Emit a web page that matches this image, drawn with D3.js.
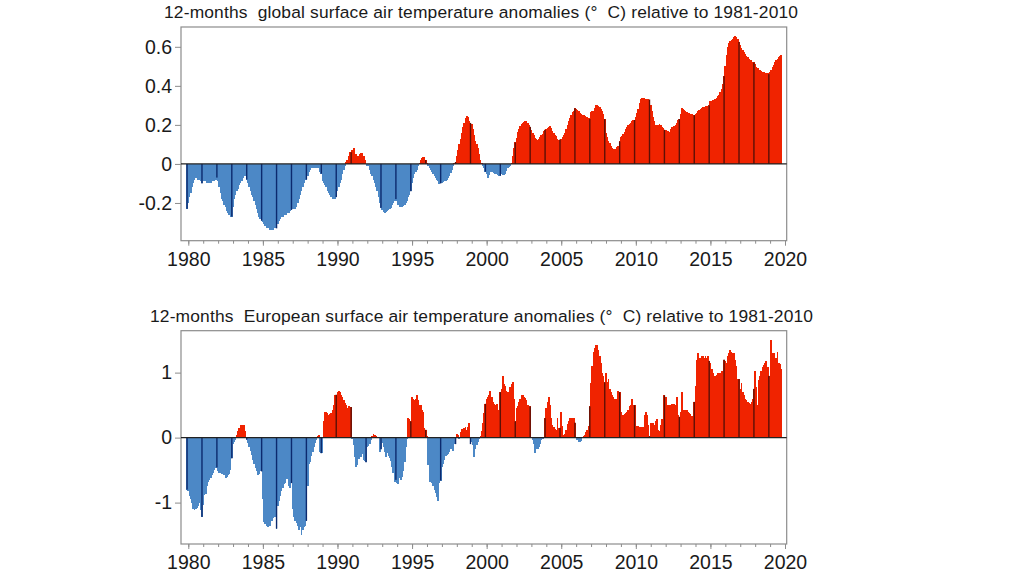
<!DOCTYPE html>
<html><head><meta charset="utf-8">
<script src="https://cdn.jsdelivr.net/npm/d3@7"></script>
<style>
html,body{margin:0;padding:0;background:#fff;overflow:hidden}
svg{display:block}
text{font-family:"Liberation Sans",Arial,sans-serif;fill:#1a1a1a;white-space:pre}
</style></head><body>
<svg id="c" width="1024" height="576"></svg>
<script>
const globalTitle = "12-months  global surface air temperature anomalies (°  C) relative to 1981-2010";
const europeTitle = "12-months  European surface air temperature anomalies (°  C) relative to 1981-2010";
const majorYears = [1980,1985,1990,1995,2000,2005,2010,2015,2020];
const globalTicks = [-0.2,0,0.2,0.4,0.6];
const globalTickLabels = ["-0.2","0","0.2","0.4","0.6"];
const europeTicks = [-1,0,1];
const europeTickLabels = ["-1","0","1"];

// one row per year, twelve running 12-month values; the first of each row is the dark bar
const globalValues = [
-0.23,-0.20,-0.17,-0.15,-0.12,-0.10,-0.08,-0.07,-0.07,-0.08,-0.08,-0.09,
-0.10,-0.09,-0.09,-0.09,-0.10,-0.10,-0.10,-0.10,-0.09,-0.09,-0.09,-0.08,
-0.07,-0.09,-0.12,-0.15,-0.18,-0.19,-0.21,-0.22,-0.24,-0.25,-0.26,-0.27,
-0.27,-0.22,-0.18,-0.16,-0.14,-0.13,-0.11,-0.10,-0.09,-0.07,-0.06,-0.06,
-0.08,-0.10,-0.12,-0.14,-0.16,-0.17,-0.19,-0.21,-0.23,-0.25,-0.27,-0.28,
-0.29,-0.30,-0.31,-0.32,-0.33,-0.33,-0.33,-0.34,-0.34,-0.34,-0.33,-0.33,
-0.33,-0.31,-0.29,-0.28,-0.27,-0.27,-0.26,-0.26,-0.26,-0.25,-0.25,-0.24,
-0.235,-0.23,-0.23,-0.23,-0.22,-0.20,-0.18,-0.16,-0.14,-0.12,-0.10,-0.08,
-0.08,-0.06,-0.04,-0.03,-0.02,-0.02,-0.02,-0.02,-0.02,-0.02,-0.02,-0.04,
-0.05,-0.09,-0.10,-0.11,-0.12,-0.14,-0.15,-0.16,-0.17,-0.18,-0.18,-0.18,
-0.17,-0.14,-0.12,-0.10,-0.08,-0.05,-0.03,-0.01,0.01,0.02,0.04,0.06,
0.06,0.07,0.08,0.05,0.05,0.04,0.04,0.05,0.055,0.055,0.04,0.02,
0.00,-0.01,-0.01,-0.03,-0.05,-0.06,-0.08,-0.10,-0.12,-0.14,-0.17,-0.20,
-0.225,-0.235,-0.245,-0.25,-0.245,-0.24,-0.235,-0.23,-0.225,-0.21,-0.20,-0.19,
-0.18,-0.19,-0.21,-0.22,-0.22,-0.22,-0.215,-0.21,-0.20,-0.19,-0.17,-0.16,
-0.14,-0.10,-0.07,-0.05,-0.04,-0.03,-0.01,0.005,0.02,0.03,0.035,0.035,
0.02,0.005,-0.01,-0.02,-0.03,-0.04,-0.05,-0.06,-0.07,-0.08,-0.09,-0.105,
-0.10,-0.10,-0.095,-0.09,-0.085,-0.08,-0.07,-0.06,-0.045,-0.03,-0.01,0.005,
0.01,0.04,0.07,0.10,0.13,0.16,0.19,0.21,0.235,0.245,0.24,0.22,
0.21,0.205,0.18,0.15,0.12,0.10,0.08,0.05,0.02,0.005,-0.01,-0.02,
-0.04,-0.05,-0.07,-0.055,-0.04,-0.04,-0.04,-0.045,-0.05,-0.05,-0.055,-0.06,
-0.06,-0.05,-0.055,-0.055,-0.05,-0.035,-0.02,-0.015,-0.01,0.005,0.04,0.08,
0.11,0.135,0.165,0.18,0.195,0.205,0.21,0.215,0.22,0.22,0.21,0.20,
0.19,0.175,0.16,0.15,0.135,0.13,0.125,0.13,0.14,0.15,0.155,0.17,
0.175,0.18,0.185,0.19,0.195,0.185,0.17,0.16,0.15,0.145,0.13,0.125,
0.125,0.13,0.14,0.15,0.16,0.18,0.20,0.22,0.235,0.25,0.265,0.27,
0.285,0.28,0.275,0.27,0.26,0.255,0.25,0.25,0.245,0.24,0.24,0.235,
0.23,0.265,0.27,0.27,0.285,0.30,0.30,0.295,0.29,0.28,0.27,0.255,
0.23,0.16,0.14,0.12,0.105,0.09,0.08,0.075,0.075,0.075,0.085,0.09,
0.115,0.14,0.145,0.155,0.165,0.18,0.19,0.20,0.205,0.21,0.22,0.225,
0.225,0.24,0.26,0.28,0.31,0.335,0.34,0.34,0.34,0.335,0.335,0.335,
0.33,0.30,0.27,0.24,0.22,0.20,0.195,0.20,0.205,0.20,0.19,0.185,
0.175,0.175,0.17,0.17,0.165,0.18,0.19,0.19,0.195,0.20,0.21,0.225,
0.23,0.255,0.285,0.28,0.275,0.27,0.265,0.26,0.26,0.255,0.255,0.25,
0.25,0.255,0.26,0.27,0.275,0.28,0.285,0.29,0.29,0.295,0.295,0.295,
0.30,0.32,0.32,0.325,0.33,0.335,0.34,0.35,0.355,0.37,0.385,0.41,
0.45,0.50,0.56,0.60,0.62,0.63,0.635,0.64,0.65,0.655,0.65,0.64,
0.625,0.61,0.595,0.585,0.575,0.565,0.555,0.55,0.54,0.535,0.53,0.52,
0.52,0.51,0.495,0.49,0.48,0.48,0.475,0.47,0.47,0.465,0.465,0.465,
0.46,0.47,0.48,0.495,0.505,0.52,0.53,0.54,0.55,0.555,0.56];

const europeValues = [
-0.80,-0.82,-0.90,-0.95,-1.00,-1.10,-1.12,-1.10,-1.08,-1.05,-1.00,-1.12,
-1.22,-1.04,-0.88,-0.87,-0.75,-0.68,-0.65,-0.62,-0.58,-0.55,-0.50,-0.47,
-0.46,-0.52,-0.55,-0.54,-0.56,-0.55,-0.58,-0.62,-0.60,-0.57,-0.56,-0.50,
-0.32,-0.10,-0.07,-0.03,0.04,0.10,0.15,0.19,0.20,0.18,0.19,0.10,
-0.03,-0.08,-0.14,-0.20,-0.27,-0.35,-0.40,-0.47,-0.52,-0.58,-0.56,-0.52,
-0.52,-0.95,-1.30,-1.33,-1.36,-1.37,-1.35,-1.36,-1.28,-1.24,-1.22,-1.22,
-1.40,-1.05,-0.98,-0.90,-0.82,-0.78,-0.72,-0.70,-0.64,-0.64,-0.75,-0.78,
-0.70,-1.10,-1.22,-1.28,-1.32,-1.36,-1.42,-1.38,-1.50,-1.42,-1.38,-1.36,
-1.28,-0.75,-0.40,-0.38,-0.28,-0.22,-0.15,-0.08,-0.04,0.03,0.04,-0.22,
-0.24,-0.24,0.25,0.40,0.40,0.38,0.35,0.36,0.38,0.42,0.50,0.65,
0.66,0.70,0.72,0.70,0.66,0.62,0.58,0.54,0.50,0.46,0.48,0.47,
0.47,-0.02,-0.12,-0.30,-0.45,-0.42,-0.33,-0.28,-0.30,-0.25,-0.35,-0.36,
-0.38,-0.15,-0.13,-0.10,-0.03,0.02,0.06,0.04,0.02,0.01,-0.01,-0.22,
-0.18,-0.08,-0.14,-0.22,-0.30,-0.24,-0.28,-0.32,-0.36,-0.45,-0.55,-0.68,
-0.65,-0.70,-0.72,-0.62,-0.65,-0.60,-0.52,-0.38,-0.15,-0.02,0.30,0.28,
0.25,0.62,0.60,0.58,0.60,0.65,0.58,0.50,0.50,0.42,0.40,0.15,
0.12,0.02,-0.42,-0.68,-0.68,-0.70,-0.75,-0.80,-0.85,-0.92,-0.97,-0.70,
-0.66,-0.45,-0.40,-0.35,-0.28,-0.27,-0.25,-0.22,-0.18,-0.14,-0.20,-0.10,
-0.10,0.05,0.04,-0.02,0.08,0.13,0.14,0.15,0.16,0.12,0.16,0.23,
-0.10,-0.07,-0.12,-0.30,-0.17,-0.12,-0.07,-0.02,0.03,0.10,0.22,0.38,
0.52,0.60,0.62,0.65,0.72,0.62,0.55,0.52,0.50,0.52,0.42,0.42,
0.70,0.75,0.95,0.82,0.80,0.72,0.70,0.68,0.78,0.83,0.85,0.60,
0.25,0.45,0.48,0.55,0.60,0.65,0.65,0.63,0.61,0.58,0.50,0.48,
0.48,0.00,-0.03,-0.10,-0.24,-0.18,-0.17,-0.15,-0.10,-0.04,-0.02,0.01,
0.30,0.45,0.55,0.63,0.50,0.30,0.20,0.17,0.14,0.12,0.30,0.15,
0.15,0.40,0.18,0.04,0.05,0.12,0.21,0.26,0.30,0.30,0.30,0.30,
0.23,0.01,-0.03,-0.06,-0.07,-0.05,-0.01,0.02,0.04,0.08,0.12,0.18,
0.48,0.84,1.10,1.32,1.38,1.42,1.42,1.35,1.25,1.15,1.00,0.95,
0.85,1.00,0.85,0.90,0.75,0.70,0.65,0.62,0.60,0.58,0.60,0.72,
0.70,0.40,0.33,0.35,0.37,0.38,0.40,0.42,0.48,0.50,0.59,0.50,
0.50,0.18,0.15,0.18,0.16,0.17,0.16,0.17,0.35,0.40,0.35,0.20,
0.02,0.22,0.18,0.22,0.20,0.25,0.28,0.12,0.10,0.20,0.28,0.12,
0.65,0.62,0.50,0.48,0.50,0.50,0.52,0.50,0.52,0.50,0.62,0.35,
0.32,0.40,0.70,0.42,0.42,0.42,0.42,0.40,0.38,0.36,0.34,0.34,
0.55,0.80,1.20,1.30,1.22,1.22,1.25,1.25,1.22,1.25,1.22,1.25,
1.18,1.15,1.05,1.00,0.95,0.95,0.97,1.00,1.00,1.00,1.02,1.00,
1.20,1.18,1.15,1.25,1.30,1.35,1.32,1.30,1.30,1.20,1.10,0.90,
0.90,0.75,0.84,0.70,0.65,0.60,0.58,0.55,0.53,0.52,0.55,0.60,
0.75,1.03,0.78,0.50,0.88,0.95,1.03,1.08,1.12,1.15,1.18,1.08,
0.95,0.95,1.50,1.30,1.30,1.22,1.23,1.32,1.15,1.13,1.05];

const RED="#f02300", BLUE="#4c88c6", NAVY="#0c2a6e", MAROON="#5c1006", FRAME="#8c8c8c";
const svg = d3.select("#c");
const minorYears = d3.range(1980,2021);
const firstMonth = 1979 + 11/12;

function panel(o){
  const left=181, right=786.7;
  const x = d3.scaleLinear().domain([1980,2020]).range([188.3,785]);
  const y = d3.scaleLinear().domain(o.domain).range([o.bottom,o.top]);
  const g = svg.append("g");
  const tx = i => x(firstMonth + i/12);
  const w = (x(1981)-x(1980))/12;
  const rows = o.values.map((v,i)=>({v,i}));
  g.append("g").attr("shape-rendering","crispEdges").selectAll("rect").data(rows).join("rect")
    .attr("x",d=>tx(d.i)-w/2-0.3).attr("width",w+0.6)
    .attr("y",d=>y(Math.max(0,d.v))).attr("height",d=>Math.abs(y(d.v)-y(0)))
    .attr("fill",d=>d.v>=0?RED:BLUE);
  g.append("g").selectAll("rect").data(rows.filter(d=>d.i%12===0)).join("rect")
    .attr("x",d=>tx(d.i)-0.7).attr("width",1.4)
    .attr("y",d=>y(Math.max(0,d.v))).attr("height",d=>Math.abs(y(d.v)-y(0)))
    .attr("fill",d=>d.v>=0?MAROON:NAVY);
  g.append("rect").attr("x",left).attr("y",o.top).attr("width",right-left).attr("height",o.bottom-o.top)
    .attr("fill","none").attr("stroke",FRAME).attr("stroke-width",1.2);
  g.append("line").attr("x1",left).attr("x2",right).attr("y1",y(0)).attr("y2",y(0))
    .attr("stroke","#222").attr("stroke-width",1.2);

  const bottomMinor = d3.axisBottom(x).tickValues(minorYears).tickSize(3).tickFormat("");
  const mn = g.append("g").attr("transform",`translate(0,${o.bottom})`).call(bottomMinor);
  mn.select(".domain").remove(); mn.selectAll("line").attr("stroke",FRAME);
  const bottom = d3.axisBottom(x).tickValues(majorYears).tickSize(5).tickPadding(6).tickFormat(d3.format("d"));
  const mj = g.append("g").attr("transform",`translate(0,${o.bottom})`).call(bottom);
  mj.select(".domain").remove(); mj.selectAll("line").attr("stroke",FRAME);
  mj.selectAll("text").attr("font-size",19.5).attr("fill","#1a1a1a").attr("font-family","Liberation Sans");
  const ya = d3.axisLeft(y).tickValues(o.ticks).tickSize(6).tickPadding(3).tickFormat((d,i)=>o.labels[i]);
  const yg = g.append("g").attr("transform",`translate(${left},0)`).call(ya);
  yg.select(".domain").remove(); yg.selectAll("line").attr("stroke",FRAME);
  yg.selectAll("text").attr("font-size",19.5).attr("fill","#1a1a1a").attr("font-family","Liberation Sans");
  g.append("text").attr("x",o.titleX).attr("y",o.titleY).attr("font-size",17.4)
    .attr("textLength",o.titleLength).attr("lengthAdjust","spacing").text(o.title);
}
panel({values:globalValues,title:globalTitle,titleX:164,titleY:18,titleLength:634,top:27,bottom:240.7,domain:[-0.3933,0.7015],ticks:globalTicks,labels:globalTickLabels});
panel({values:europeValues,title:europeTitle,titleX:150,titleY:322,titleLength:663,top:330.7,bottom:544,domain:[-1.637,1.645],ticks:europeTicks,labels:europeTickLabels});
</script>
</body></html>
